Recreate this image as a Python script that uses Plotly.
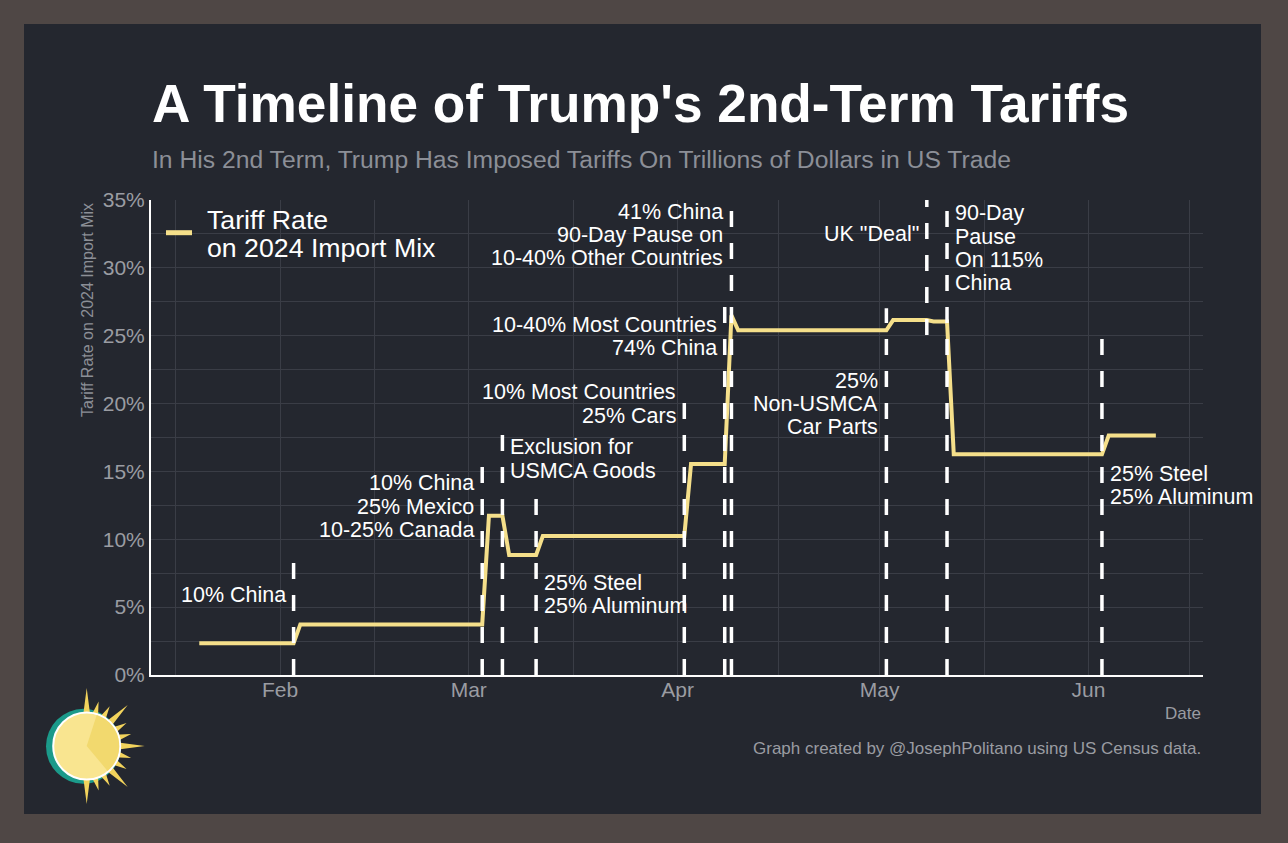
import numpy as np
import plotly.graph_objects as go

# tariff rate on the 2024 import mix (%), daily steps
dates = ["2025-01-20", "2025-02-03", "2025-02-04", "2025-03-03", "2025-03-04",
         "2025-03-06", "2025-03-07", "2025-03-11", "2025-03-12", "2025-04-02",
         "2025-04-03", "2025-04-08", "2025-04-09", "2025-04-10", "2025-05-02",
         "2025-05-03", "2025-05-08", "2025-05-09", "2025-05-11", "2025-05-12",
         "2025-06-03", "2025-06-04", "2025-06-11"]
rates = [2.34, 2.34, 3.73, 3.73, 11.74,
         11.74, 8.84, 8.84, 10.24, 10.24,
         15.55, 15.55, 26.5, 25.4, 25.4,
         26.15, 26.15, 26.05, 26.05, 16.26,
         16.26, 17.64, 17.64]

# policy events
event_dates = ["2025-02-03", "2025-03-03", "2025-03-06", "2025-03-11", "2025-04-02",
               "2025-04-08", "2025-04-09", "2025-05-02", "2025-05-08", "2025-05-11",
               "2025-06-03"]
event_labels = [
    "10% China",
    "10% China\n25% Mexico\n10-25% Canada",
    "Exclusion for\nUSMCA Goods",
    "25% Steel\n25% Aluminum",
    "10% Most Countries\n25% Cars",
    "10-40% Most Countries\n74% China",
    "41% China\n90-Day Pause on\n10-40% Other Countries",
    "25%\nNon-USMCA\nCar Parts",
    'UK "Deal"',
    "90-Day\nPause\nOn 115%\nChina",
    "25% Steel\n25% Aluminum",
]

# where the labels and dashed markers sit (L = text left of marker)
label_side = ["L", "L", "R", "R", "L", "L", "L", "L", "L", "R", "R"]
label_top_px = [595, 483.3, 447.3, 582.7, 392.3, 325, 211.7, 380.7, 234.3, 213.3, 474]
marker_span = [(0, 8.33), (0, 15.47), (0, 17.93), (0, 13.14), (0, 20.34), (0, 27.51),
               (0, 34.76), (0, 27.02), (25.05, 35), (0, 34.76), (0, 25.0)]

W, H = 1288, 843
L, R, T, B = 151, 1203, 200, 675

FRAME = "#4f4745"
PANEL = "#24272f"
GRID = "#3a3d46"
GRAY = "#9a9ca2"
YELLOW = "#f5df8a"
FONT = "Liberation Sans, Arial, sans-serif"


def px(x):
    return (x - L) / (R - L)


def py(y):
    return (B - y) / (B - T)


fig = go.Figure()

fig.add_trace(go.Scatter(
    x=dates, y=rates, mode="lines",
    line=dict(color=YELLOW, width=4),
    showlegend=False,
))

# background panel
fig.add_shape(type="rect", xref="paper", yref="paper",
              x0=px(24), x1=px(1261), y0=py(814), y1=py(24),
              fillcolor=PANEL, line=dict(width=0), layer="below")

# dashed event markers and their labels
line_gap = 23.3
for d, lab, side, ytop, span in zip(event_dates, event_labels, label_side,
                                    label_top_px, marker_span):
    fig.add_shape(type="line", xref="x", yref="y", x0=d, x1=d,
                  y0=span[0], y1=span[1],
                  line=dict(color="white", width=3.5, dash="16px,16px"))
    for i, txt in enumerate(lab.split("\n")):
        fig.add_annotation(
            x=d, y=py(ytop + i * line_gap), xref="x", yref="paper",
            text=txt, showarrow=False,
            xanchor="right" if side == "L" else "left", yanchor="middle",
            xshift=-6 if side == "L" else 6,
            font=dict(family=FONT, size=21.5, color="white"),
        )

# legend
fig.add_shape(type="line", xref="paper", yref="paper",
              x0=px(166), x1=px(192), y0=py(232.7), y1=py(232.7),
              line=dict(color=YELLOW, width=5))
for i, txt in enumerate(["Tariff Rate", "on 2024 Import Mix"]):
    fig.add_annotation(x=px(205), y=py(220 + i * 28.3), xref="paper", yref="paper",
                       text=txt, showarrow=False, xanchor="left", yanchor="middle",
                       font=dict(family=FONT, size=26.7, color="white"))

# titles and notes
fig.add_annotation(x=px(150), y=py(103), xref="paper", yref="paper",
                   text="<b>A Timeline of Trump's 2nd-Term Tariffs</b>",
                   showarrow=False, xanchor="left", yanchor="middle",
                   font=dict(family=FONT, size=53.2, color="white"))
fig.add_annotation(x=px(150), y=py(160), xref="paper", yref="paper",
                   text="In His 2nd Term, Trump Has Imposed Tariffs On Trillions of Dollars in US Trade",
                   showarrow=False, xanchor="left", yanchor="middle",
                   font=dict(family=FONT, size=24.7, color="#8c8f97"))
fig.add_annotation(x=px(87), y=py(310), xref="paper", yref="paper",
                   text="Tariff Rate on 2024 Import Mix", textangle=-90,
                   showarrow=False, xanchor="center", yanchor="middle",
                   font=dict(family=FONT, size=16, color="#8c8f97"))
fig.add_annotation(x=1, y=py(713), xref="paper", yref="paper",
                   text="Date", showarrow=False, xanchor="right", yanchor="middle",
                   font=dict(family=FONT, size=17, color=GRAY))
fig.add_annotation(x=1, y=py(748), xref="paper", yref="paper",
                   text="Graph created by @JosephPolitano using US Census data.",
                   showarrow=False, xanchor="right", yanchor="middle",
                   font=dict(family=FONT, size=17, color=GRAY))

# sun logo
cx, cy, rs = 86.7, 746, 33.5


def circ(x0, y0, r):
    return dict(x0=px(x0 - r), x1=px(x0 + r), y0=py(y0 + r), y1=py(y0 - r))


fig.add_shape(type="circle", xref="paper", yref="paper", **circ(83.5, 746.3, 37.5),
              fillcolor="#1b9a8a", line=dict(width=0))
spikes = ""
for a in range(-90, 91, 15):
    ln = 58 if a % 45 == 0 else 46
    pts = []
    for ang, rr in ((a - 7, 30), (a, ln), (a + 7, 30)):
        t = np.radians(ang)
        pts.append((px(cx + rr * np.cos(t)), py(cy - rr * np.sin(t))))
    spikes += "M {:.5f},{:.5f} L {:.5f},{:.5f} L {:.5f},{:.5f} Z ".format(
        *pts[0], *pts[1], *pts[2])
fig.add_shape(type="path", xref="paper", yref="paper", path=spikes,
              fillcolor="#f2d35c", line=dict(width=0))
fig.add_shape(type="circle", xref="paper", yref="paper", **circ(cx, cy, rs),
              fillcolor="#f9e590", line=dict(color="white", width=2))
wedge = "M {:.5f},{:.5f}".format(px(cx), py(cy))
for ang in np.linspace(-50, 72, 30):
    t = np.radians(ang)
    wedge += " L {:.5f},{:.5f}".format(px(cx + (rs - 1) * np.cos(t)),
                                        py(cy - (rs - 1) * np.sin(t)))
wedge += " Z"
fig.add_shape(type="path", xref="paper", yref="paper", path=wedge,
              fillcolor="#f2d96e", line=dict(width=0))

fig.update_layout(
    width=W, height=H,
    margin=dict(l=L, r=W - R, t=T, b=H - B),
    paper_bgcolor=FRAME,
    plot_bgcolor=PANEL,
    font=dict(family=FONT),
    showlegend=False,
    xaxis=dict(
        type="date",
        range=["2025-01-12 20:00", "2025-06-18 00:00"],
        tick0="2025-01-01", dtick="M1", tickformat="%b",
        showgrid=True, gridcolor=GRID, gridwidth=1,
        minor=dict(tickvals=["2025-01-16 12:00", "2025-02-15", "2025-03-16 12:00",
                             "2025-04-16", "2025-05-16 12:00", "2025-06-16"],
                   showgrid=True, gridcolor=GRID, gridwidth=1),
        showline=True, linecolor="white", linewidth=2,
        ticks="", zeroline=False, ticklabelstandoff=-5,
        tickfont=dict(family=FONT, size=21, color=GRAY),
    ),
    yaxis=dict(
        range=[0, 35], dtick=5, ticksuffix="%",
        showgrid=True, gridcolor=GRID, gridwidth=1,
        minor=dict(dtick=2.5, showgrid=True, gridcolor=GRID, gridwidth=1),
        showline=True, linecolor="white", linewidth=2,
        ticks="", zeroline=False,
        tickfont=dict(family=FONT, size=21, color=GRAY),
    ),
)

fig.write_html("out.html",
               config={"displayModeBar": False},
               post_script="document.body.style.margin='0';"
                           "document.body.style.background='#4f4745';")
